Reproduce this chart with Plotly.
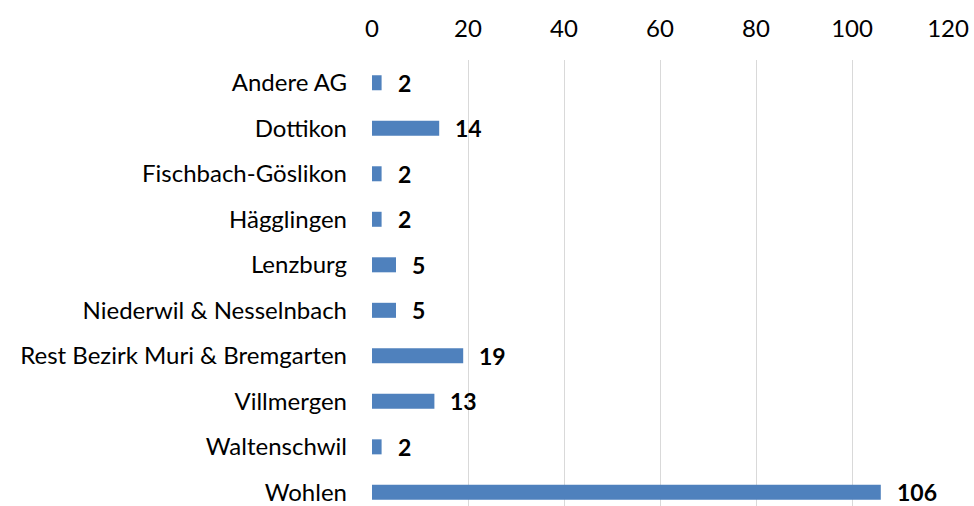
import plotly.graph_objects as go

categories = [
    "Andere AG",
    "Dottikon",
    "Fischbach-Göslikon",
    "Hägglingen",
    "Lenzburg",
    "Niederwil & Nesselnbach",
    "Rest Bezirk Muri & Bremgarten",
    "Villmergen",
    "Waltenschwil",
    "Wohlen",
]
values = [2, 14, 2, 2, 5, 5, 19, 13, 2, 106]
x_ticks = [0, 20, 40, 60, 80, 100, 120]

FONT = "Lato, Calibri, Carlito, sans-serif"
BAR_COLOR = "#4F81BD"

fig = go.Figure(
    go.Bar(
        x=values,
        y=categories,
        orientation="h",
        marker=dict(color=BAR_COLOR, line=dict(width=0)),
        width=0.33,
        hoverinfo="x+y",
    )
)

# value labels, bold, a bit to the right of each bar end
for cat, val in zip(categories, values):
    fig.add_annotation(
        x=val, y=cat, text=f"<b>{val}</b>",
        showarrow=False, xanchor="left", yanchor="middle",
        xshift=14, font=dict(family=FONT, size=23, color="#000000"),
    )

fig.update_layout(
    width=974,
    height=506,
    margin=dict(l=372, r=26, t=60, b=0, autoexpand=False),
    plot_bgcolor="white",
    paper_bgcolor="white",
    showlegend=False,
    font=dict(family=FONT, size=24, color="#000000"),
    xaxis=dict(
        side="top",
        range=[0, 120],
        tickvals=x_ticks,
        showgrid=True,
        gridcolor="#D9D9D9",
        gridwidth=1,
        zeroline=False,
        showline=False,
        ticks="",
        ticklabelstandoff=17,
        tickfont=dict(family=FONT, size=24, color="#000000"),
    ),
    yaxis=dict(
        range=[9.3, -0.5],
        showgrid=False,
        zeroline=False,
        showline=False,
        ticks="",
        ticklabelstandoff=24,
        tickfont=dict(family=FONT, size=24, color="#000000"),
    ),
)

# drop the default 8px page margin so the figure sits at the window corner
fig.write_html(
    "out.html",
    config={"displayModeBar": False},
    post_script="document.body.style.margin='0';",
)
